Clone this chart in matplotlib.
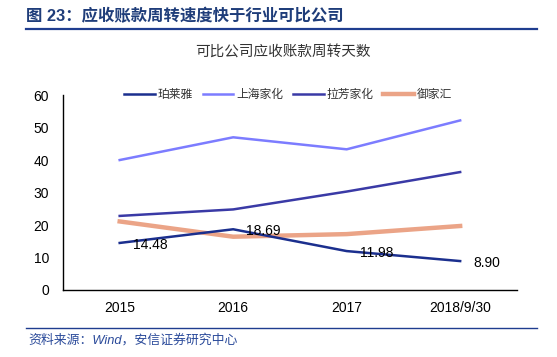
import matplotlib
matplotlib.use("Agg")
import matplotlib.pyplot as plt
from matplotlib.lines import Line2D

plt.rcParams['font.family'] = ['Liberation Sans', 'Noto Sans CJK SC', 'DejaVu Sans']

categories = ["2015", "2016", "2017", "2018/9/30"]
proya = [14.48, 18.69, 11.98, 8.90]
jahwa = [40.0, 47.0, 43.3, 52.2]
lafang = [22.8, 24.8, 30.3, 36.3]
yujiahui = [21.1, 16.4, 17.2, 19.7]
proya_labels = ["14.48", "18.69", "11.98", "8.90"]
yticks = [0, 10, 20, 30, 40, 50, 60]

fig = plt.figure(figsize=(5.57, 3.57), dpi=100)
ax = fig.add_axes([0.113, 0.1877, 0.815, 0.546])

x = list(range(len(categories)))
ax.plot(x, proya, color="#1b2f8e", lw=1.8, label="珀莱雅", zorder=4)
ax.plot(x, jahwa, color="#7c7cff", lw=1.8, label="上海家化", zorder=3)
ax.plot(x, lafang, color="#3a3aa6", lw=1.8, label="拉芳家化", zorder=3)
ax.plot(x, yujiahui, color="#eba487", lw=3.2, label="御家汇", zorder=2)

for xi, yi, lab in zip(x, proya, proya_labels):
    ax.annotate(lab, (xi, yi), xytext=(9.5, -1.5), textcoords="offset points",
                fontsize=10, ha="left", va="center", color="black", zorder=5)

ax.set_xlim(-0.5, 3.5)
ax.set_ylim(0, 60)
ax.set_yticks(yticks)
ax.set_xticks(x)
ax.set_xticklabels(categories)
ax.tick_params(axis="both", length=0, labelsize=10, colors="black")
ax.tick_params(axis="x", pad=8)
ax.tick_params(axis="y", pad=10)
for s in ["top", "right"]:
    ax.spines[s].set_visible(False)
for s in ["left", "bottom"]:
    ax.spines[s].set_color("black")
    ax.spines[s].set_linewidth(1.0)

leg = ax.legend(loc="center left", bbox_to_anchor=(0.125, 1.0), ncol=4, frameon=False,
                fontsize=8.5, handlelength=2.6, handletextpad=0.25, columnspacing=0.8,
                borderaxespad=0)
for t in leg.get_texts():
    t.set_color("#333333")

fig.text(0.508, 0.852, "可比公司应收账款周转天数", ha="center", va="center",
         fontsize=10.5, color="#333333")

fig.text(0.047, 0.955, "图 23：应收账款周转速度快于行业可比公司", ha="left", va="center",
         fontsize=11.8, fontweight="bold", color="#1f3d7a")
fig.add_artist(Line2D([0.047, 0.964], [0.919, 0.919], color="#1f3d8f", lw=1.6,
                      transform=fig.transFigure))
fig.add_artist(Line2D([0.047, 0.964], [0.081, 0.081], color="#1f3d8f", lw=1.0,
                      transform=fig.transFigure))
fig.text(0.05, 0.047, "资料来源：Wind，安信证券研究中心", ha="left", va="center",
         fontsize=9.3, style="italic", color="#2a4a9a")

fig.savefig("out.png", dpi=100)
